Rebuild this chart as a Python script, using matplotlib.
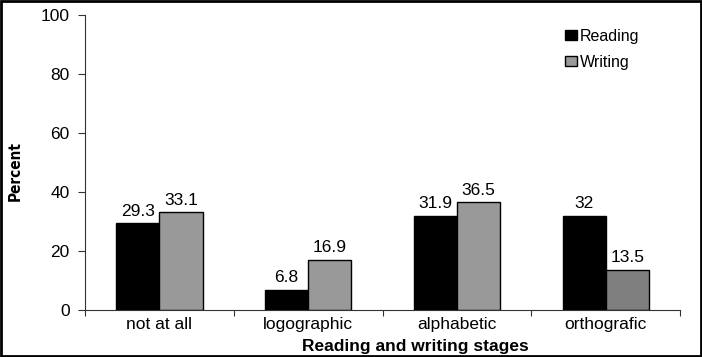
import matplotlib.pyplot as plt
import numpy as np
from matplotlib.patches import Rectangle

stages = ["not at all", "logographic", "alphabetic", "orthografic"]
reading = [29.3, 6.8, 31.9, 32]
writing = [33.1, 16.9, 36.5, 13.5]
writing_colors = ["#999999", "#999999", "#999999", "#7f7f7f"]

plt.rcParams['font.family'] = ['Liberation Sans', 'DejaVu Sans']

fig = plt.figure(figsize=(7.02, 3.57), dpi=100)
ax = fig.add_axes([0.121, 0.132, 0.848, 0.826])

x = np.arange(len(stages))
w = 0.29
b1 = ax.bar(x - w / 2, reading, w, color="black", edgecolor="black", linewidth=1, label="Reading")
b2 = ax.bar(x + w / 2, writing, w, color=writing_colors, edgecolor="black", linewidth=1, label="Writing")

for bars, vals in [(b1, reading), (b2, writing)]:
    for r, v in zip(bars, vals):
        ax.text(r.get_x() + r.get_width() / 2, v + 1.6, f"{v:g}",
                ha="center", va="bottom", fontsize=12.5)

ax.set_xlim(-0.5, len(stages) - 0.5)
ax.set_ylim(0, 100)
ax.set_yticks(range(0, 101, 20))
ax.set_xticks(np.arange(-0.5, len(stages), 1.0))
ax.set_xticklabels([])
ax.set_xticks(x, minor=True)
ax.set_xticklabels(stages, minor=True)
ax.tick_params(axis="x", which="minor", length=0, labelsize=12.5, pad=5)
ax.tick_params(axis="x", which="major", direction="out", length=4, color="#333333")
ax.tick_params(axis="y", direction="out", length=5, labelsize=12.5, pad=6, color="#333333")

for s in ["top", "right"]:
    ax.spines[s].set_visible(False)
for s in ["left", "bottom"]:
    ax.spines[s].set_color("#333333")

ax.set_ylabel("Percent", family="DejaVu Sans", stretch="condensed",
              fontweight="bold", fontsize=11)
ax.yaxis.set_label_coords(-0.104, 0.47)
ax.set_xlabel("Reading and writing stages", fontweight="bold", fontsize=12.5)
ax.xaxis.set_label_coords(0.555, -0.098)

leg = ax.legend(loc="upper left", bbox_to_anchor=(0.795, 0.975), frameon=False,
                fontsize=11.5, handlelength=0.75, handleheight=0.55,
                handletextpad=0.2, labelspacing=0.7, borderaxespad=0)

fig.add_artist(Rectangle((0.002, 0.003), 0.996, 0.994, transform=fig.transFigure,
                         fill=False, edgecolor="black", linewidth=2))

fig.savefig("out.png", dpi=100)
